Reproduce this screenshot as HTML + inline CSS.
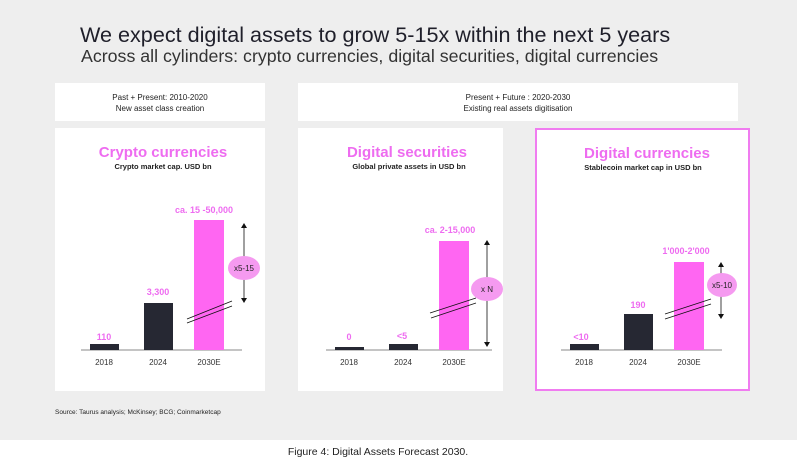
<!DOCTYPE html>
<html><head><meta charset="utf-8"><style>
html,body{margin:0;padding:0;background:#fff;}
svg{display:block;font-family:"Liberation Sans",sans-serif;}
</style></head><body>
<svg width="797" height="462" viewBox="0 0 797 462" xmlns="http://www.w3.org/2000/svg">
<rect x="0" y="0" width="797" height="440" fill="#eeeeee"/>
<text x="80" y="42" font-size="21.6" fill="#1f1f2a">We expect digital assets to grow 5-15x within the next 5 years</text>
<text x="81" y="62" font-size="17.8" fill="#333" font-weight="300">Across all cylinders: crypto currencies, digital securities, digital currencies</text>
<rect x="55" y="83" width="210" height="38" fill="#fff"/>
<text x="160" y="100" font-size="8" text-anchor="middle" fill="#222">Past + Present: 2010-2020</text>
<text x="160" y="111" font-size="8" text-anchor="middle" fill="#222">New asset class creation</text>
<rect x="298" y="83" width="440" height="38" fill="#fff"/>
<text x="518" y="100" font-size="8" text-anchor="middle" fill="#222">Present + Future : 2020-2030</text>
<text x="518" y="111" font-size="8" text-anchor="middle" fill="#222">Existing real assets digitisation</text>

<g>
<rect x="55" y="128" width="210" height="263" fill="#fff"/>
<text x="163" y="157" font-size="15" font-weight="bold" text-anchor="middle" fill="#ee6cf0">Crypto currencies</text>
<text x="163" y="169" font-size="7.5" font-weight="bold" text-anchor="middle" fill="#222">Crypto market cap. USD bn</text>
<line x1="81" y1="350" x2="242" y2="350" stroke="#888" stroke-width="1"/>
<rect x="90" y="344" width="29" height="6" fill="#262833"/>
<rect x="144" y="303" width="29" height="47" fill="#262833"/>
<rect x="194" y="220" width="30" height="130" fill="#ff66f2"/>
<text x="104" y="340" font-size="9" font-weight="bold" text-anchor="middle" fill="#ee6cf0">110</text>
<text x="158" y="295" font-size="9" font-weight="bold" text-anchor="middle" fill="#ee6cf0">3,300</text>
<text x="204" y="213" font-size="9" font-weight="bold" text-anchor="middle" fill="#ee6cf0">ca. 15 -50,000</text>
<text x="104" y="365" font-size="8" text-anchor="middle" fill="#333">2018</text>
<text x="158" y="365" font-size="8" text-anchor="middle" fill="#333">2024</text>
<text x="209" y="365" font-size="8" text-anchor="middle" fill="#333">2030E</text>
<line x1="244" y1="226" x2="244" y2="300" stroke="#111" stroke-width="0.8"/>
<path d="M241,228 L244,223 L247,228 Z M241,298 L244,303 L247,298 Z" fill="#111"/>
<ellipse cx="244" cy="268" rx="16" ry="12" fill="#f59af0"/>
<text x="244" y="271" font-size="8" text-anchor="middle" fill="#222">x5-15</text>
<line x1="187" y1="319" x2="232" y2="301" stroke="#111" stroke-width="0.8"/>
<line x1="187" y1="323" x2="232" y2="306" stroke="#111" stroke-width="0.8"/>
</g>

<g>
<rect x="298" y="128" width="205" height="263" fill="#fff"/>
<text x="407" y="157" font-size="15" font-weight="bold" text-anchor="middle" fill="#ee6cf0">Digital securities</text>
<text x="409" y="169" font-size="7.5" font-weight="bold" text-anchor="middle" fill="#222">Global private assets in USD bn</text>
<line x1="326" y1="350" x2="492" y2="350" stroke="#888" stroke-width="1"/>
<rect x="335" y="347" width="29" height="3" fill="#262833"/>
<rect x="389" y="344" width="29" height="6" fill="#262833"/>
<rect x="439" y="241" width="30" height="109" fill="#ff66f2"/>
<text x="349" y="340" font-size="9" font-weight="bold" text-anchor="middle" fill="#ee6cf0">0</text>
<text x="402" y="339" font-size="9" font-weight="bold" text-anchor="middle" fill="#ee6cf0">&lt;5</text>
<text x="450" y="233" font-size="9" font-weight="bold" text-anchor="middle" fill="#ee6cf0">ca. 2-15,000</text>
<text x="349" y="365" font-size="8" text-anchor="middle" fill="#333">2018</text>
<text x="403" y="365" font-size="8" text-anchor="middle" fill="#333">2024</text>
<text x="454" y="365" font-size="8" text-anchor="middle" fill="#333">2030E</text>
<line x1="487" y1="243" x2="487" y2="344" stroke="#111" stroke-width="0.8"/>
<path d="M484,245 L487,240 L490,245 Z M484,342 L487,347 L490,342 Z" fill="#111"/>
<ellipse cx="487" cy="289" rx="16" ry="12" fill="#f59af0"/>
<text x="487" y="292" font-size="8" text-anchor="middle" fill="#222">x N</text>
<line x1="430" y1="313" x2="476" y2="298" stroke="#111" stroke-width="0.8"/>
<line x1="431" y1="318" x2="476" y2="303" stroke="#111" stroke-width="0.8"/>
</g>

<g>
<rect x="536" y="129" width="213" height="261" fill="#fff" stroke="#f07cf0" stroke-width="2"/>
<text x="647" y="158" font-size="15" font-weight="bold" text-anchor="middle" fill="#ee6cf0">Digital currencies</text>
<text x="643" y="170" font-size="7.5" font-weight="bold" text-anchor="middle" fill="#222">Stablecoin market cap in USD bn</text>
<line x1="561" y1="350" x2="722" y2="350" stroke="#888" stroke-width="1"/>
<rect x="570" y="344" width="29" height="6" fill="#262833"/>
<rect x="624" y="314" width="29" height="36" fill="#262833"/>
<rect x="674" y="262" width="30" height="88" fill="#ff66f2"/>
<text x="581" y="340" font-size="9" font-weight="bold" text-anchor="middle" fill="#ee6cf0">&lt;10</text>
<text x="638" y="308" font-size="9" font-weight="bold" text-anchor="middle" fill="#ee6cf0">190</text>
<text x="686" y="254" font-size="9" font-weight="bold" text-anchor="middle" fill="#ee6cf0">1'000-2'000</text>
<text x="584" y="365" font-size="8" text-anchor="middle" fill="#333">2018</text>
<text x="638" y="365" font-size="8" text-anchor="middle" fill="#333">2024</text>
<text x="689" y="365" font-size="8" text-anchor="middle" fill="#333">2030E</text>
<line x1="721" y1="265" x2="721" y2="316" stroke="#111" stroke-width="0.8"/>
<path d="M718,267 L721,262 L724,267 Z M718,314 L721,319 L724,314 Z" fill="#111"/>
<ellipse cx="722" cy="285" rx="15" ry="12" fill="#f59af0"/>
<text x="722" y="288" font-size="8" text-anchor="middle" fill="#222">x5-10</text>
<line x1="665" y1="314" x2="711" y2="299" stroke="#111" stroke-width="0.8"/>
<line x1="665" y1="319" x2="711" y2="304" stroke="#111" stroke-width="0.8"/>
</g>

<text x="55" y="414" font-size="6.5" fill="#222">Source: Taurus analysis; McKinsey; BCG; Coinmarketcap</text>
<text x="378" y="455" font-size="10.5" text-anchor="middle" fill="#222">Figure 4: Digital Assets Forecast 2030.</text>
</svg>
</body></html>
